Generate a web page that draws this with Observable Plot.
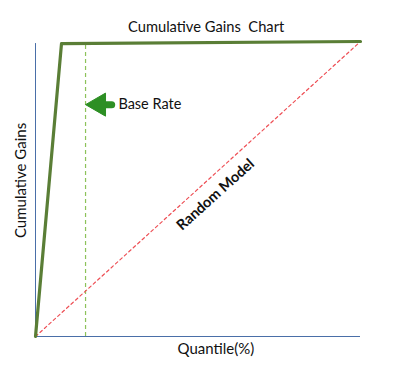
<!DOCTYPE html>
<html>
<head>
<meta charset="utf-8">
<script src="https://cdn.jsdelivr.net/npm/d3@7"></script>
<script src="https://cdn.jsdelivr.net/npm/@observablehq/plot@0.6"></script>
<style>
  html, body { margin: 0; padding: 0; background: #fff; }
  svg { display: block; }
</style>
</head>
<body>
<div id="chart"></div>
<script>
const quantile = [0, 8, 100];
const gains = [0, 99.3, 100];
const randomQuantile = [0, 100];
const randomGains = [0, 100];
const baseRate = 15.4;
const axisTop = 99.3;
const titleText = "Cumulative Gains  Chart";
const xLabel = "Quantile(%)";
const yLabel = "Cumulative Gains";
const baseRateLabel = "Base Rate";
const randomLabel = "Random Model";

const model = quantile.map((q, i) => ({q, g: gains[i]}));
const random = randomQuantile.map((q, i) => ({q, g: randomGains[i]}));

const font = "Lato, 'Open Sans', sans-serif";
const arrowY = 78.6;

const chart = Plot.plot({
  width: 408,
  height: 368,
  marginLeft: 35,
  marginRight: 48,
  marginTop: 41,
  marginBottom: 32,
  x: {domain: [0, 100], axis: null},
  y: {domain: [0, 100], axis: null},
  style: {fontFamily: font, background: "#fff"},
  marks: [
    Plot.ruleY([0], {x1: 0, x2: 100, stroke: "#4a6fa8", strokeWidth: 1}),
    Plot.ruleX([0], {y1: 0, y2: axisTop, stroke: "#4a6fa8", strokeWidth: 1}),
    Plot.ruleX([baseRate], {y1: 0, y2: axisTop, stroke: "#8dc25a", strokeWidth: 1.2, strokeDasharray: "4,3"}),
    Plot.line(random, {x: "q", y: "g", stroke: "#ee4f55", strokeWidth: 1.2, strokeDasharray: "3,3"}),
    Plot.line(model, {x: "q", y: "g", stroke: "#5a7e36", strokeWidth: 3.2}),
    Plot.ruleY([arrowY], {x1: 19.5, x2: 23.6, stroke: "#2d8f24", strokeWidth: 7, strokeLinecap: "round"}),
    Plot.dot([arrowY], {x: 19.5, y: d => d, symbol: "triangle2", r: 11, rotate: -90, fill: "#2d8f24", stroke: "#2d8f24", strokeWidth: 1, strokeLinejoin: "round"}),
    Plot.text([baseRateLabel], {x: 25.5, y: arrowY, text: d => d, textAnchor: "start", fontSize: 14.5, fill: "#111"}),
    Plot.text([titleText], {x: 52.5, y: 104.7, text: d => d, fontSize: 14.7, fill: "#111"}),
    Plot.text([xLabel], {x: 55.5, y: -4.4, text: d => d, fontSize: 15, fill: "#111"}),
    Plot.text([yLabel], {x: -4.3, y: 52.9, text: d => d, rotate: -90, fontSize: 15, fill: "#111"}),
    Plot.text([randomLabel], {x: 55.4, y: 48.1, text: d => d, rotate: -42, fontSize: 14.5, fontWeight: "bold", fill: "#111"})
  ]
});
document.getElementById("chart").appendChild(chart);
</script>
</body>
</html>
